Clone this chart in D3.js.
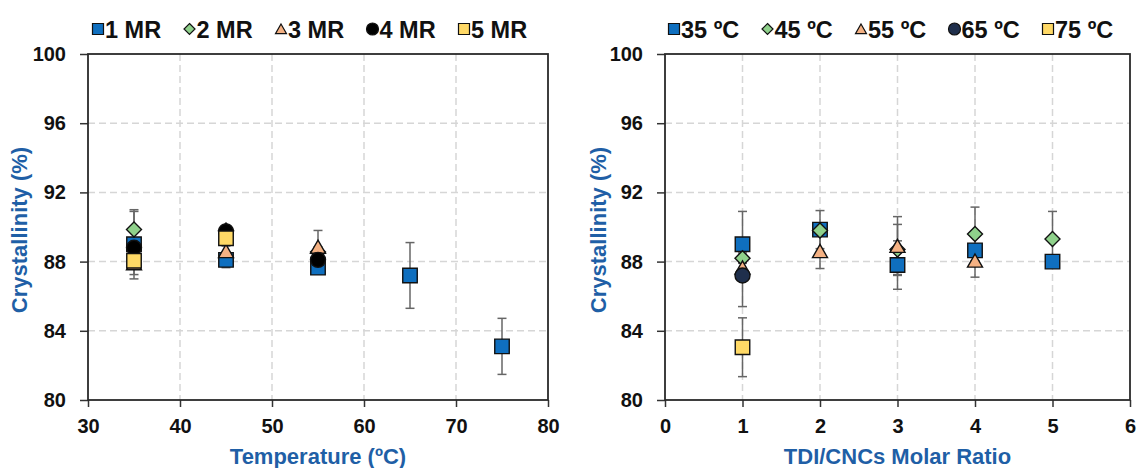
<!DOCTYPE html>
<html lang="en">
	<head>
		<meta charset="utf-8">
		<title>Crystallinity</title>
		<script src="https://d3js.org/d3.v7.min.js"></script>
		<style type="text/css">
		body { margin: 0; background: white; }
		text { font-family: Arial, 'Liberation Sans', sans-serif; font-weight: bold; }
		.tick-label { font-size: 20px; fill: #111; }
		.axis-title { font-size: 22px; fill: #1f5fa6; }
		.legend-label { font-size: 23.5px; fill: #111; }
		</style>
	</head>
	<body>
		<div id="chart"></div>
<script>

// ---- data ----
var temps = [35, 45, 55, 65, 75];
var ratios = [1, 2, 3, 4, 5];

// left panel: one series per molar ratio, x = temperature
var mrNames = ["1 MR", "2 MR", "3 MR", "4 MR", "5 MR"];
var mr1 = [89.0, 88.1, 87.65, 87.2, 83.1];
var mr1Err = [2.0, 0.45, 0.3, 1.9, 1.62];
var mr2 = [89.85, 89.8, 88.55];
var mr2Err = [1.05, 0.3, 0.3];
var mr3 = [87.9, 88.6, 88.85];
var mr3Err = [0.3, 0.3, 0.95];
var mr4 = [88.8, 89.75, 88.1];
var mr4Err = [0.3, 0.3, 0.3];
var mr5 = [88.05, 89.35];
var mr5Err = [0.8, 0.3];

// right panel: one series per temperature, x = TDI/CNCs molar ratio
var tNames = ["35 \u00baC", "45 \u00baC", "55 \u00baC", "65 \u00baC", "75 \u00baC"];
var t35 = [89.0, 89.85, 87.8, 88.65, 88.0];
var t35Err = [1.9, 1.1, 1.4, 0.3, 0.3];
var t45 = [88.2, 89.8, 88.7, 89.6, 89.3];
var t45Err = [0.3, 0.3, 1.45, 1.55, 1.6];
var t55 = [87.65, 88.6, 88.9, 88.05];
var t55Err = [0.3, 1.0, 1.7, 0.95];
var t65 = [87.2];
var t65Err = [1.8];
var t75 = [83.05];
var t75Err = [1.7];

var yTicks = [80, 84, 88, 92, 96, 100];
var tempTicks = [30, 40, 50, 60, 70, 80];
var ratioTicks = [0, 1, 2, 3, 4, 5, 6];

var width = 1140, height = 468;

var svg = d3.select("#chart")
  .append("svg")
    .attr("width", width)
    .attr("height", height);

// marker shapes (Excel style)
function markerPath(shape, s) {
  var h = s / 2;
  if (shape == "square") return "M" + (-h) + "," + (-h) + "H" + h + "V" + h + "H" + (-h) + "Z";
  if (shape == "diamond") return "M0," + (-h) + "L" + h + ",0L0," + h + "L" + (-h) + ",0Z";
  if (shape == "triangle") return "M0," + (-h * 0.9) + "L" + h + "," + (h * 0.85) + "L" + (-h) + "," + (h * 0.85) + "Z";
  // circle
  return d3.arc()({innerRadius: 0, outerRadius: h, startAngle: 0, endAngle: 2 * Math.PI});
}

function drawPanel(opts) {
  var x = d3.scaleLinear().domain(opts.xDomain).range([opts.left, opts.right]);
  var y = d3.scaleLinear().domain([80, 100]).range([400, 54]);

  var g = svg.append("g");

  // dashed grid
  g.append("g").selectAll("line.h")
    .data(yTicks.slice(1, -1))
    .enter().append("line")
      .attr("x1", opts.left).attr("x2", opts.right)
      .attr("y1", d => y(d)).attr("y2", d => y(d))
      .attr("stroke", "#d6d6d6").attr("stroke-width", 1.5)
      .attr("stroke-dasharray", "7,4");
  g.append("g").selectAll("line.v")
    .data(opts.xTicks.slice(1, -1))
    .enter().append("line")
      .attr("x1", d => x(d)).attr("x2", d => x(d))
      .attr("y1", y(100)).attr("y2", y(80))
      .attr("stroke", "#d6d6d6").attr("stroke-width", 1.5)
      .attr("stroke-dasharray", "7,4");

  // flatten series into points
  var pts = [];
  opts.series.forEach(function(s, i) {
    s.values.forEach(function(v, j) {
      pts.push({x: opts.xValues[j], v: v, e: s.err[j], s: s, i: i});
    });
  });

  // error bars under markers
  var eb = g.append("g").attr("stroke", "#666").attr("stroke-width", 1.5);
  eb.selectAll("line.bar").data(pts).enter().append("line")
    .attr("x1", d => x(d.x)).attr("x2", d => x(d.x))
    .attr("y1", d => y(d.v - d.e)).attr("y2", d => y(d.v + d.e));
  eb.selectAll("line.top").data(pts).enter().append("line")
    .attr("x1", d => x(d.x) - 4.5).attr("x2", d => x(d.x) + 4.5)
    .attr("y1", d => y(d.v + d.e)).attr("y2", d => y(d.v + d.e));
  eb.selectAll("line.bot").data(pts).enter().append("line")
    .attr("x1", d => x(d.x) - 4.5).attr("x2", d => x(d.x) + 4.5)
    .attr("y1", d => y(d.v - d.e)).attr("y2", d => y(d.v - d.e));

  // markers, series order
  g.append("g").selectAll("path")
    .data(pts)
    .enter().append("path")
      .attr("transform", d => "translate(" + x(d.x) + "," + y(d.v) + ")")
      .attr("d", d => markerPath(d.s.shape, d.s.shape == "square" ? 14.5 : 15))
      .attr("fill", d => d.s.color)
      .attr("stroke", "#111")
      .attr("stroke-width", 1.4);

  // axes
  var yAxis = g.append("g")
    .attr("transform", "translate(" + opts.left + ",0)")
    .call(d3.axisLeft(y).tickValues(yTicks).tickSize(8).tickPadding(14).tickSizeOuter(0));
  var xAxis = g.append("g")
    .attr("transform", "translate(0," + y(80) + ")")
    .call(d3.axisBottom(x).tickValues(opts.xTicks).tickFormat(d3.format("d"))
      .tickSize(7).tickPadding(12).tickSizeOuter(0));
  [yAxis, xAxis].forEach(function(a) {
    a.select(".domain").remove();
    a.selectAll(".tick line").attr("stroke", "#333").attr("stroke-width", 1.5);
    a.selectAll(".tick text").attr("class", "tick-label");
  });

  // plot frame
  g.append("rect")
    .attr("x", opts.left).attr("y", y(100))
    .attr("width", opts.right - opts.left).attr("height", y(80) - y(100))
    .attr("fill", "none").attr("stroke", "#2a2a2a").attr("stroke-width", 1.8);

  // titles
  g.append("text")
    .attr("class", "axis-title")
    .attr("x", (opts.left + opts.right) / 2).attr("y", 464)
    .attr("text-anchor", "middle")
    .text(opts.xTitle);
  g.append("text")
    .attr("class", "axis-title")
    .attr("transform", "translate(" + opts.yTitleX + "," + (y(90) + 3) + ") rotate(-90)")
    .attr("text-anchor", "middle")
    .attr("dy", "0.35em")
    .text("Crystallinity (%)");

  // legend along the top
  var leg = g.append("g").selectAll("g")
    .data(opts.series)
    .enter().append("g")
      .attr("transform", (d, i) => "translate(" + (opts.legendX + i * opts.legendStep) + ",29)");
  leg.append("path")
    .attr("d", d => markerPath(d.shape, d.shape == "circle" ? 12 : 11))
    .attr("fill", d => d.color)
    .attr("stroke", "#111")
    .attr("stroke-width", 1.2);
  leg.append("text")
    .attr("class", "legend-label")
    .attr("x", 7).attr("y", 8.5)
    .text(d => d.name);
}

var blue = "#0f6fbf", green = "#8fd18b", orange = "#f4b183", yellow = "#ffd966";

drawPanel({
  left: 88, right: 548,
  xDomain: [30, 80], xTicks: tempTicks, xValues: temps,
  xTitle: "Temperature (\u00baC)", yTitleX: 19,
  legendX: 98, legendStep: 91.5,
  series: [
    {name: mrNames[0], values: mr1, err: mr1Err, shape: "square", color: blue},
    {name: mrNames[1], values: mr2, err: mr2Err, shape: "diamond", color: green},
    {name: mrNames[2], values: mr3, err: mr3Err, shape: "triangle", color: orange},
    {name: mrNames[3], values: mr4, err: mr4Err, shape: "circle", color: "#000"},
    {name: mrNames[4], values: mr5, err: mr5Err, shape: "square", color: yellow}
  ]
});

drawPanel({
  left: 665, right: 1130,
  xDomain: [0, 6], xTicks: ratioTicks, xValues: ratios,
  xTitle: "TDI/CNCs Molar Ratio", yTitleX: 598,
  legendX: 674, legendStep: 93.5,
  series: [
    {name: tNames[0], values: t35, err: t35Err, shape: "square", color: blue},
    {name: tNames[1], values: t45, err: t45Err, shape: "diamond", color: green},
    {name: tNames[2], values: t55, err: t55Err, shape: "triangle", color: orange},
    {name: tNames[3], values: t65, err: t65Err, shape: "circle", color: "#1f2f4c"},
    {name: tNames[4], values: t75, err: t75Err, shape: "square", color: yellow}
  ]
});

</script>
	</body>
</html>
